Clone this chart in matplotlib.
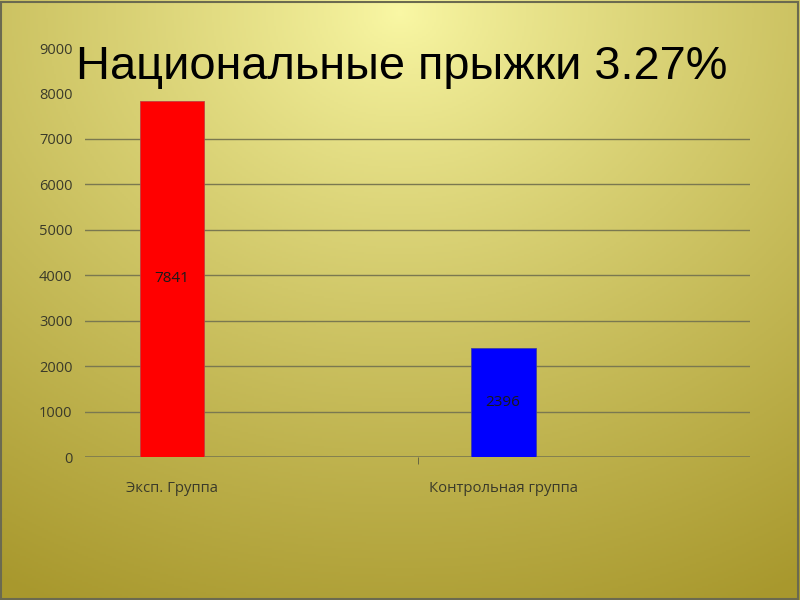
import numpy as np
import matplotlib.pyplot as plt
from matplotlib.patches import Rectangle

# данные
categories = ['Эксп. Группа', 'Контрольная группа']
values = [7841, 2396]
bar_colors = ['#ff0000', '#0000ff']
title = 'Национальные прыжки 3.27%'
y_ticks = [0, 1000, 2000, 3000, 4000, 5000, 6000, 7000, 8000, 9000]

fig = plt.figure(figsize=(8, 6), dpi=100)

# фон: радиальный градиент как на слайде
bg = fig.add_axes([0, 0, 1, 1], zorder=-10)
yy, xx = np.mgrid[0:1:300j, 0:1:400j]
d = np.sqrt(((xx - 0.5) * 1.1) ** 2 + ((yy - 0.02) * 1.0) ** 2)
d = np.clip(d / 1.1, 0, 1) ** 0.85
c0 = np.array([250, 248, 165]) / 255
c1 = np.array([168, 152, 45]) / 255
img = c0[None, None, :] * (1 - d[..., None]) + c1[None, None, :] * d[..., None]
bg.imshow(img, extent=[0, 1, 0, 1], aspect='auto', origin='upper')
bg.axis('off')
fig.patches.append(Rectangle((0.001, 0.001), 0.997, 0.996, transform=fig.transFigure,
                             fill=False, edgecolor='#6b6a50', linewidth=1.5))

ax = fig.add_axes([0.10625, 0.2383, 0.83125, 0.6817])
ax.patch.set_alpha(0)
x = np.arange(len(categories))
bars = ax.bar(x, values, width=0.196, color=bar_colors, zorder=3,
              edgecolor=['#c04040', '#4040a0'], linewidth=0.6)
for b, v in zip(bars, values):
    ax.text(b.get_x() + b.get_width() / 2, v / 2, str(v), ha='center', va='center',
            fontsize=11, color='#1a1a1a', family='Open Sans', zorder=4)

ax.set_xlim(-0.263, 1.746)
ax.set_ylim(0, 9000)
ax.set_yticks(y_ticks)
ax.set_yticklabels([str(t) for t in y_ticks], family='Open Sans', fontsize=10.5, color='#3a3a2a')
ax.tick_params(axis='y', length=0, pad=9)
for t in y_ticks[1:8]:
    ax.axhline(t, color='#7a7850', linewidth=1.0, zorder=1)
ax.axhline(0, color='#7a7850', linewidth=1.2, zorder=2)

ax.set_xticks(x)
ax.set_xticklabels(categories, family='Open Sans', fontsize=10.7, color='#3a3a2a')
ax.tick_params(axis='x', length=0, pad=17)
ax.set_xticks([0.743], minor=True)
ax.tick_params(axis='x', which='minor', length=5, color='#5a5a40', direction='out')
for s in ax.spines.values():
    s.set_visible(False)

fig.text(0.502, 1 - 67 / 600, title, ha='center', va='center', fontsize=33.8,
         family='Liberation Sans', color='black')

fig.savefig('out.png', dpi=100)
